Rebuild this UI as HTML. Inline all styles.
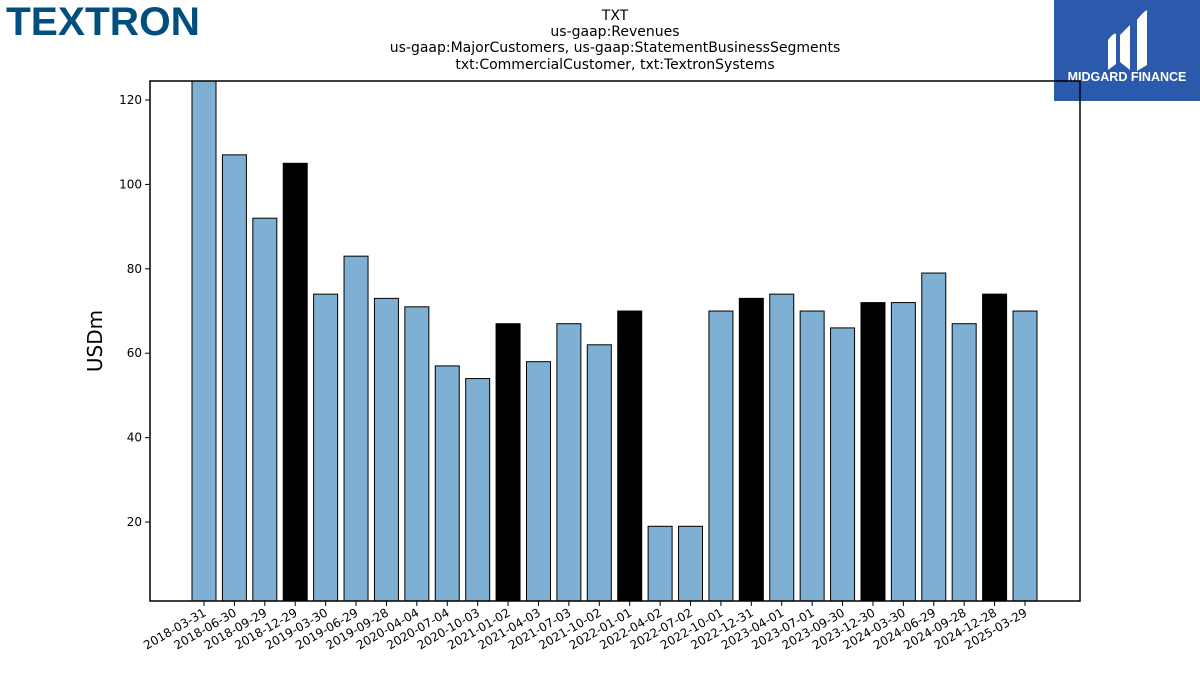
<!DOCTYPE html>
<html><head><meta charset="utf-8"><style>
body{margin:0;background:#fff;width:1200px;height:675px;overflow:hidden;font-family:"Liberation Sans","DejaVu Sans",sans-serif}
</style></head><body>
<svg id="chart" width="1200" height="675" xmlns="http://www.w3.org/2000/svg" font-family="DejaVu Sans, Liberation Sans, sans-serif">
<text x="6" y="35" font-family="Liberation Sans, sans-serif" font-weight="bold" font-size="40" fill="#004f7f" textLength="194" lengthAdjust="spacingAndGlyphs">TEXTRON</text>
<g>
<rect x="1054" y="0" width="146" height="101" fill="#2b5aad"/>
<path d="M1108 40 q6-8 8-6 v30 l-8 6z M1120 35 l10-10 v45 l-10-8z M1137 20 q6-8 10-10 v55 l-10 6z" fill="#fff"/>
<text x="1127" y="81" text-anchor="middle" font-family="Liberation Sans, sans-serif" font-weight="bold" font-size="12.5" fill="#fff">MIDGARD FINANCE</text>
</g>
<g font-size="14" text-anchor="middle" fill="#000">
<text x="615" y="20">TXT</text>
<text x="615" y="36">us-gaap:Revenues</text>
<text x="615" y="52">us-gaap:MajorCustomers, us-gaap:StatementBusinessSegments</text>
<text x="615" y="69">txt:CommercialCustomer, txt:TextronSystems</text>
</g>
<g id="plot"></g>
<text transform="translate(102,341) rotate(-90)" text-anchor="middle" font-size="20">USDm</text>
</svg>
<script>
const categories=["2018-03-31","2018-06-30","2018-09-29","2018-12-29","2019-03-30","2019-06-29","2019-09-28","2020-04-04","2020-07-04","2020-10-03","2021-01-02","2021-04-03","2021-07-03","2021-10-02","2022-01-01","2022-04-02","2022-07-02","2022-10-01","2022-12-31","2023-04-01","2023-07-01","2023-09-30","2023-12-30","2024-03-30","2024-06-29","2024-09-28","2024-12-28","2025-03-29"];
const values=[130,107,92,105,74,83,73,71,57,54,67,58,67,62,70,19,19,70,73,74,70,66,72,72,79,67,74,70];
const isAnnual=[0,0,0,1,0,0,0,0,0,0,1,0,0,0,1,0,0,0,1,0,0,0,1,0,0,0,1,0];
const yTicks=[20,40,60,80,100,120];
const NS="http://www.w3.org/2000/svg";
const L=150,R=1080,T=81,B=601,yMin=1.3,yMax=124.5;
const y=v=>B-(v-yMin)/(yMax-yMin)*(B-T);
const step=(1025-204)/(categories.length-1);
const x=i=>204+i*step;
const g=document.getElementById('plot');
function mk(t,a){const e=document.createElementNS(NS,t);for(const k in a)e.setAttribute(k,a[k]);g.appendChild(e);return e;}
const clip=mk('clipPath',{id:'c'});clip.appendChild(Object.assign(document.createElementNS(NS,'rect')));
clip.firstChild.setAttribute('x',L);clip.firstChild.setAttribute('y',T);clip.firstChild.setAttribute('width',R-L);clip.firstChild.setAttribute('height',B-T);
values.forEach((v,i)=>{
const r=mk('rect',{x:x(i)-12,y:y(v),width:24,height:B-y(v),fill:isAnnual[i]?'#000':'#7fb0d3',stroke:'#000','stroke-width':1,'clip-path':'url(#c)'});


mk('line',{x1:x(i),x2:x(i),y1:B,y2:B+5,stroke:'#000'});
const t=mk('text',{x:x(i)+3,y:B+14,'font-size':12,'text-anchor':'end',transform:`rotate(-30 ${x(i)+3} ${B+14})`});
t.textContent=categories[i];


});
yTicks.forEach(v=>{
mk('line',{x1:L-5,x2:L,y1:y(v),y2:y(v),stroke:'#000'});
const t=mk('text',{x:L-8,y:y(v)+4,'font-size':12,'text-anchor':'end'});
t.textContent=v;


});
const f=mk('rect',{x:L,y:T,width:R-L,height:B-T,fill:'none',stroke:'#000','stroke-width':1.5});


</script>
</body></html>
